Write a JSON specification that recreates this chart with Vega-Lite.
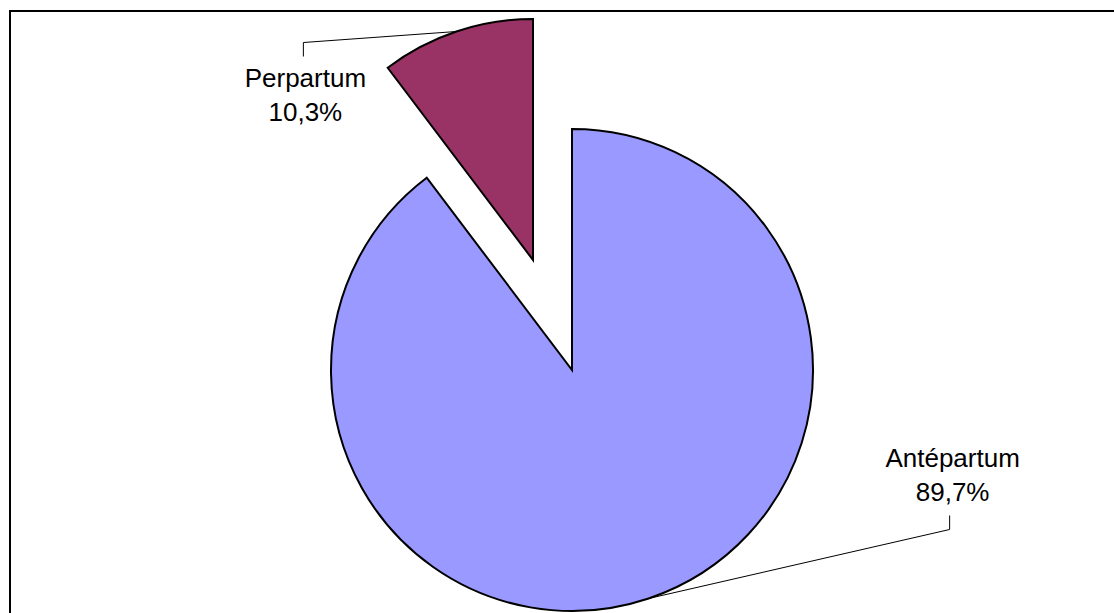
{
  "$schema": "https://vega.github.io/schema/vega-lite/v6.json",
  "width": 1124,
  "height": 718,
  "autosize": {"type": "none"},
  "padding": {"left": 10, "top": 11, "right": 0, "bottom": 0},
  "background": "white",
  "config": {"view": {"stroke": "black", "strokeWidth": 2}},
  "data": {
    "values": [
      {"category": "Antépartum", "value": 89.7},
      {"category": "Perpartum", "value": 10.3}
    ]
  },
  "transform": [
    {"joinaggregate": [{"op": "sum", "field": "value", "as": "total"}]},
    {"window": [{"op": "sum", "field": "value", "as": "cum"}], "sort": [{"field": "category", "order": "ascending"}], "frame": [null, 0]},
    {"calculate": "2 * PI * (datum.cum - datum.value / 2) / datum.total", "as": "mid"},
    {"calculate": "datum.category === 'Perpartum' ? -39 : 0", "as": "ox"},
    {"calculate": "datum.category === 'Perpartum' ? -110 : 0", "as": "oy"},
    {"calculate": "241 * sin(datum.mid) + datum.ox", "as": "ex"},
    {"calculate": "-241 * cos(datum.mid) + datum.oy", "as": "ey"}
  ],
  "layer": [
    {
      "mark": {"type": "arc", "outerRadius": 241, "stroke": "black", "strokeWidth": 2},
      "encoding": {
        "theta": {"field": "value", "type": "quantitative", "stack": true},
        "color": {"field": "category", "type": "nominal", "legend": null,
          "scale": {"domain": ["Antépartum", "Perpartum"], "range": ["#9999FF", "#993366"]}},
        "opacity": {"condition": {"test": "datum.category === 'Perpartum'", "value": 0}, "value": 1}
      }
    },
    {
      "mark": {"type": "arc", "outerRadius": 241, "stroke": "black", "strokeWidth": 2, "xOffset": -39, "yOffset": -110},
      "encoding": {
        "theta": {"field": "value", "type": "quantitative", "stack": true},
        "color": {"field": "category", "type": "nominal", "legend": null,
          "scale": {"domain": ["Antépartum", "Perpartum"], "range": ["#9999FF", "#993366"]}},
        "opacity": {"condition": {"test": "datum.category === 'Perpartum'", "value": 1}, "value": 0}
      }
    },
    {
      "transform": [
        {"calculate": "[0, 1, 2]", "as": "pt"},
        {"flatten": ["pt"]},
        {"calculate": "datum.pt === 0 ? 0 : (datum.category === 'Perpartum' ? -153 : 301)", "as": "kx"},
        {"calculate": "datum.pt === 0 ? 0 : (datum.category === 'Perpartum' ? (datum.pt === 1 ? 11 : 25) : (datum.pt === 1 ? -69 : -83))", "as": "ky"},
        {"calculate": "datum.ex + datum.kx", "as": "px"},
        {"calculate": "datum.ey + datum.ky", "as": "py"}
      ],
      "mark": {"type": "line", "color": "black", "strokeWidth": 1},
      "encoding": {
        "x": {"field": "px", "type": "quantitative", "axis": null, "scale": {"domain": [-562, 562], "nice": false, "zero": false}},
        "y": {"field": "py", "type": "quantitative", "axis": null, "scale": {"domain": [-359, 359], "nice": false, "zero": false, "reverse": true}},
        "detail": {"field": "category"},
        "order": {"field": "pt", "type": "quantitative"}
      }
    },
    {
      "transform": [
        {"calculate": "datum.category + '\\n' + replace(format(datum.value, '.1f'), '.', ',') + '%'", "as": "label"},
        {"calculate": "datum.ex + (datum.category === 'Perpartum' ? -151 : 304)", "as": "px"},
        {"calculate": "datum.ey + (datum.category === 'Perpartum' ? 47 : -139.5)", "as": "py"}
      ],
      "mark": {"type": "text", "font": "Liberation Sans", "fontSize": 26, "lineHeight": 34, "lineBreak": "\n", "align": "center", "baseline": "middle", "color": "black"},
      "encoding": {
        "x": {"field": "px", "type": "quantitative", "axis": null, "scale": {"domain": [-562, 562], "nice": false, "zero": false}},
        "y": {"field": "py", "type": "quantitative", "axis": null, "scale": {"domain": [-359, 359], "nice": false, "zero": false, "reverse": true}},
        "text": {"field": "label"}
      }
    }
  ]
}
